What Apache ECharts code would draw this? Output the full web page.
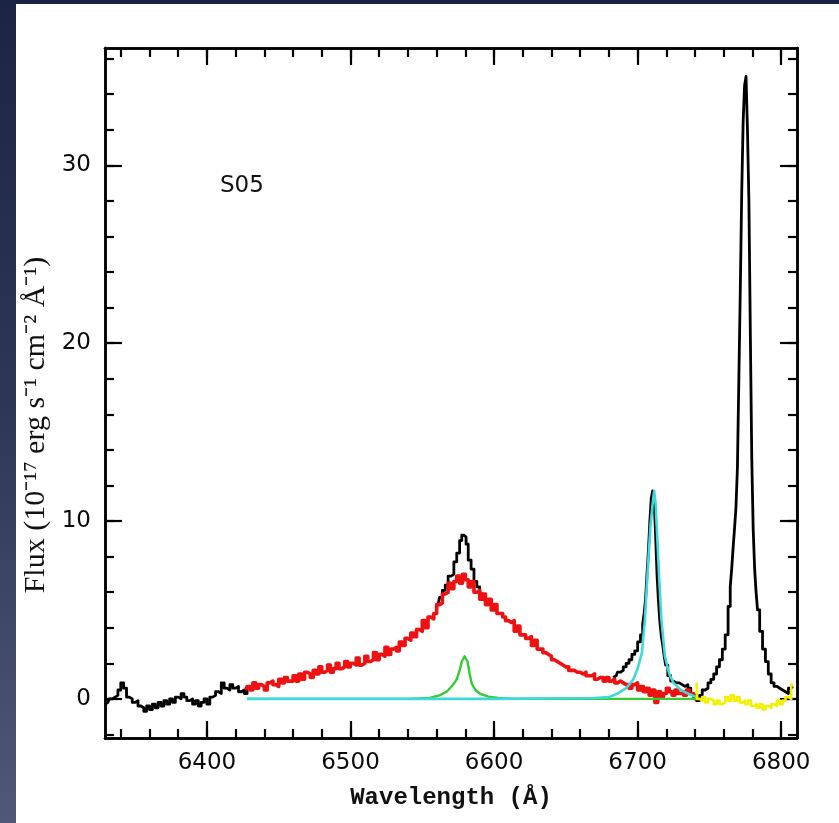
<!DOCTYPE html>
<html>
<head>
<meta charset="utf-8">
<script src="https://cdn.jsdelivr.net/npm/echarts@6/dist/echarts.min.js"></script>
<style>
html, body { margin: 0; padding: 0; width: 839px; height: 823px; overflow: hidden;
  background: linear-gradient(180deg, #1b2444 0%, #2d3757 50%, #4f5879 100%); }
#panel { position: absolute; left: 16px; top: 4px; right: 0; bottom: 0; background: #ffffff; }
#chart { position: absolute; left: 0; top: 0; width: 839px; height: 823px; }
</style>
</head>
<body>
<div id="panel"></div>
<div id="chart"></div>
<script>
// ---- tick values ----
const xMajorTicks = [6400, 6500, 6600, 6700, 6800];
const xMinorTicks = [6340, 6360, 6380, 6400, 6420, 6440, 6460, 6480, 6500, 6520, 6540, 6560, 6580, 6600, 6620, 6640, 6660, 6680, 6700, 6720, 6740, 6760, 6780, 6800];
const yMajorTicks = [0, 10, 20, 30];
const yMinorTicks = [-2, 0, 2, 4, 6, 8, 10, 12, 14, 16, 18, 20, 22, 24, 26, 28, 30, 32, 34, 36];
const xRange = [6329, 6811];
const yRange = [-2.2, 36.6];
const panelLabel = 'S05';
const xTitle = 'Wavelength (\u00C5)';
const yTitle = 'Flux (10\u207B\u00B9\u2077 erg s\u207B\u00B9 cm\u207B\u00B2 \u00C5\u207B\u00B9)';

// ---- observed spectrum (black), visible segments ----
const blackBlue = [
  [6329,-0.3],[6331,-0.2],[6333,0.0],[6335,0.1],[6337,0.2],[6339,0.5],[6341,0.9],[6343,0.6],[6345,0.1],[6347,0.0],
  [6349,-0.2],[6351,-0.1],[6353,-0.4],[6355,-0.5],[6357,-0.7],[6359,-0.4],[6361,-0.6],[6363,-0.3],[6365,-0.5],[6367,-0.2],
  [6369,-0.4],[6371,-0.1],[6373,-0.3],[6375,0.0],[6377,-0.2],[6379,0.1],[6381,0.0],[6383,0.3],[6385,0.1],[6387,-0.1],
  [6389,0.0],[6391,-0.3],[6393,-0.1],[6395,-0.4],[6397,-0.2],[6399,0.0],[6401,-0.3],[6403,0.1],[6405,0.2],[6407,0.4],
  [6409,0.3],[6411,0.9],[6413,0.6],[6415,0.5],[6417,0.8],[6419,0.6],[6421,0.7],[6423,0.4],[6425,0.5],[6427,0.3],[6429,0.6]
];
const blackHalpha = [
  [6561,5.3],[6563,5.7],[6565,6.1],[6567,6.4],[6569,6.9],[6571,7.0],[6573,7.7],[6575,8.2],[6577,8.9],[6578,9.2],
  [6580,9.1],[6581,8.7],[6583,7.8],[6585,7.3],[6587,6.6],[6589,6.3],[6591,5.9],[6593,5.8]
];
const blackRed = [
  [6683,1.2],[6685,1.3],[6687,1.5],[6689,1.6],[6691,1.8],[6693,2.0],[6695,2.2],[6697,2.5],[6699,2.7],[6701,3.2],
  [6703,3.6],[6704,4.2],[6705,4.8],[6706,5.6],[6707,7.0],[6708,8.3],[6709,10.0],[6710,11.3],[6711,11.7],[6712,11.2],
  [6713,9.2],[6714,7.0],[6715,5.5],[6716,4.3],[6717,3.5],[6718,3.0],[6719,2.4],[6720,1.9],[6722,1.3],[6724,1.0],
  [6726,0.9],[6728,0.9],[6730,0.8],[6732,0.7],[6734,0.8],[6736,0.6],[6738,0.3],[6740,0.1],[6742,-0.1],[6744,0.2],
  [6746,0.5],[6748,0.6],[6750,0.9],[6752,1.1],[6754,1.4],[6756,1.8],[6758,2.2],[6760,2.8],[6762,3.6],[6764,5.2],
  [6765,6.3],[6766,7.3],[6767,8.5],[6768,9.6],[6769,10.8],[6770,13.0],[6771,18.0],[6772,23.0],[6773,28.5],[6774,32.5],
  [6775,34.5],[6776,35.0],[6777,32.0],[6778,28.0],[6779,20.5],[6780,13.5],[6781,9.5],[6782,7.3],[6783,6.0],[6784,5.0],
  [6786,3.8],[6788,2.8],[6790,2.1],[6792,1.4],[6794,0.9],[6796,0.7],[6798,0.6],[6800,0.5],[6802,0.4],[6804,0.3],
  [6806,0.6],[6808,0.7]
];

// ---- broad component (red) ----
const broadRed = [
  [6427,0.5],[6429,0.7],[6431,0.5],[6433,0.9],[6435,0.6],[6437,0.8],[6439,0.7],[6441,0.5],[6443,0.9],[6445,1.0],
  [6447,0.8],[6449,0.7],[6451,1.1],[6453,0.9],[6455,1.2],[6457,1.0],[6459,1.0],[6461,1.3],[6463,1.0],[6465,1.4],
  [6467,1.1],[6469,1.5],[6471,1.4],[6473,1.2],[6475,1.6],[6477,1.4],[6479,1.8],[6481,1.5],[6483,1.6],[6485,1.9],
  [6487,1.5],[6489,1.7],[6491,2.0],[6493,1.7],[6495,1.8],[6497,2.1],[6499,1.8],[6501,2.0],[6503,1.9],[6505,2.3],
  [6507,1.9],[6509,2.0],[6511,2.4],[6513,2.1],[6515,2.2],[6517,2.6],[6519,2.2],[6521,2.5],[6523,2.4],[6525,2.9],
  [6527,2.5],[6529,2.8],[6531,2.9],[6533,2.7],[6535,3.2],[6537,3.0],[6539,3.4],[6541,3.3],[6543,3.7],[6545,3.5],
  [6547,3.9],[6549,3.8],[6551,4.4],[6553,4.0],[6555,4.6],[6557,4.5],[6559,4.8],[6561,5.3],[6563,5.4],[6565,5.9],
  [6567,6.0],[6569,6.5],[6571,6.2],[6573,6.6],[6575,6.9],[6577,6.5],[6579,7.0],[6581,6.7],[6583,6.3],[6585,6.6],
  [6587,6.0],[6589,6.1],[6591,5.6],[6593,5.9],[6595,5.3],[6597,5.6],[6599,5.0],[6601,5.3],[6603,4.8],[6605,4.8],
  [6607,4.6],[6609,4.4],[6611,4.3],[6613,4.4],[6615,3.8],[6617,4.1],[6619,3.6],[6621,3.6],[6623,3.4],[6625,3.5],
  [6627,3.0],[6629,3.3],[6631,2.8],[6633,2.8],[6635,2.6],[6637,2.5],[6639,2.4],[6641,2.2],[6643,2.1],[6645,2.0],
  [6647,1.9],[6649,1.8],[6651,1.8],[6653,1.6],[6655,1.6],[6657,1.5],[6659,1.5],[6661,1.4],[6663,1.5],[6665,1.3],
  [6667,1.3],[6669,1.4],[6671,1.1],[6673,1.2],[6675,1.2],[6677,1.0],[6679,1.2],[6681,1.0],[6683,1.1],[6685,0.9],
  [6687,1.0],[6689,0.9],[6691,0.8],[6693,0.8],[6695,0.6],[6697,0.8],[6699,0.9],[6701,0.5],[6703,0.7],[6705,0.4],
  [6707,0.6],[6709,0.2],[6711,0.5],[6713,-0.2],[6715,0.4],[6717,0.1],[6719,0.3],[6721,0.6],[6723,0.4],[6725,0.2],
  [6727,0.5],[6729,0.3],[6731,0.4],[6733,0.2],[6735,0.5],[6737,0.3],[6739,0.2],[6741,0.0]
];

// ---- narrow Halpha (green) ----
const narrowGreen = [
  [6428,0],[6540,0],[6555,0.05],[6562,0.2],[6567,0.4],[6571,0.75],[6574,1.1],[6576,1.6],[6577.5,2.1],[6579.5,2.4],
  [6581.5,2.1],[6583,1.4],[6584.5,0.85],[6587,0.5],[6590,0.3],[6596,0.12],[6603,0.05],[6615,0],[6742,0]
];

// ---- narrow line (cyan) ----
const narrowCyan = [
  [6428,0],[6600,0],[6670,0.05],[6680,0.1],[6686,0.3],[6692,0.6],[6697,1.1],[6700,1.7],[6703,2.6],[6705,4.4],
  [6707,7.2],[6709,9.8],[6710.5,11.0],[6711.5,11.7],[6712.5,11.0],[6714,8.5],[6715,6.8],[6716.5,4.5],[6719,2.4],
  [6722,1.4],[6725,0.9],[6730,0.5],[6735,0.3],[6741,0.1]
];

// ---- residual (yellow) ----
const residualYellow = [
  [6741,0.9],[6742,0.0],[6744,-0.1],[6746,0.1],[6748,-0.2],[6750,0.0],[6752,-0.1],[6754,-0.3],[6756,-0.1],[6758,-0.3],
  [6760,-0.2],[6762,0.1],[6764,-0.1],[6766,0.2],[6768,-0.1],[6770,0.1],[6772,-0.2],[6774,-0.1],[6776,-0.3],[6778,-0.1],
  [6780,-0.4],[6782,-0.3],[6784,-0.5],[6786,-0.3],[6788,-0.6],[6790,-0.4],[6792,-0.5],[6794,-0.3],[6796,-0.4],[6798,-0.1],
  [6800,-0.3],[6802,-0.1],[6804,0.1],[6806,0.0],[6808,0.8]
];

const chart = echarts.init(document.getElementById('chart'), null, { renderer: 'canvas' });
const axisCol = '#000';
const labelFont = { fontFamily: 'DejaVu Sans', fontSize: 23, color: '#0a0a0a' };

function xAx(pos, ticks, len, showLabel, name) {
  return {
    type: 'value', position: pos, min: xRange[0], max: xRange[1],
    axisLine: { show: true, onZero: false, lineStyle: { color: axisCol, width: 2.5 } },
    axisTick: { show: true, inside: true, length: len, customValues: ticks, lineStyle: { color: axisCol, width: 2.2 } },
    axisLabel: showLabel ? Object.assign({ show: true, customValues: xMajorTicks, margin: 14,
      formatter: function (v) { return String(v); } }, labelFont) : { show: false },
    splitLine: { show: false },
    name: name || '', nameLocation: 'middle', nameGap: 48,
    nameTextStyle: { fontFamily: 'Liberation Mono', fontWeight: 'bold', fontSize: 24, color: '#111' }
  };
}
function yAx(pos, ticks, len, showLabel) {
  return {
    type: 'value', position: pos, min: yRange[0], max: yRange[1],
    axisLine: { show: true, onZero: false, lineStyle: { color: axisCol, width: 2.5 } },
    axisTick: { show: true, inside: true, length: len, customValues: ticks, lineStyle: { color: axisCol, width: 2.2 } },
    axisLabel: showLabel ? Object.assign({ show: true, customValues: yMajorTicks, margin: 14,
      formatter: function (v) { return String(v); } }, labelFont) : { show: false },
    splitLine: { show: false }
  };
}

function ser(name, data, color, width, z, step) {
  return {
    name: name, type: 'line', data: data, xAxisIndex: 0, yAxisIndex: 0,
    showSymbol: false, symbol: 'none', step: step ? 'middle' : false, smooth: false,
    z: z, clip: true,
    lineStyle: { color: color, width: width, join: 'round' }
  };
}

chart.setOption({
  animation: false,
  backgroundColor: 'transparent',
  grid: { left: 105, top: 48, right: 42, bottom: 85, containLabel: false },
  xAxis: [
    xAx('bottom', xMajorTicks, 17, true, xTitle),
    xAx('bottom', xMinorTicks, 9, false),
    xAx('top', xMajorTicks, 17, false),
    xAx('top', xMinorTicks, 9, false)
  ],
  yAxis: [
    yAx('left', yMajorTicks, 17, true),
    yAx('left', yMinorTicks, 9, false),
    yAx('right', yMajorTicks, 17, false),
    yAx('right', yMinorTicks, 9, false)
  ],
  graphic: [{
    type: 'text', left: 220, top: 175,
    style: { text: panelLabel, fontFamily: 'DejaVu Sans', fontSize: 23, fill: '#111' }
  }, {
    type: 'text', x: 36, y: 425, rotation: Math.PI / 2,
    style: { text: yTitle, fontFamily: 'Liberation Serif', fontSize: 30, fill: '#111',
      align: 'center', verticalAlign: 'middle' }
  }],
  series: [
    ser('observed1', blackBlue, '#000000', 2.8, 2, true),
    ser('observed2', blackHalpha, '#000000', 2.8, 2, true),
    ser('observed3', blackRed, '#000000', 2.8, 2, true),
    ser('broad', broadRed, '#ee1111', 3.6, 3, true),
    ser('narrowHa', narrowGreen, '#33cc33', 2.4, 4, false),
    ser('narrowLine', narrowCyan, '#3fd9d9', 2.6, 5, false),
    ser('residual', residualYellow, '#f2f200', 2.6, 6, true)
  ]
});
</script>
</body>
</html>
